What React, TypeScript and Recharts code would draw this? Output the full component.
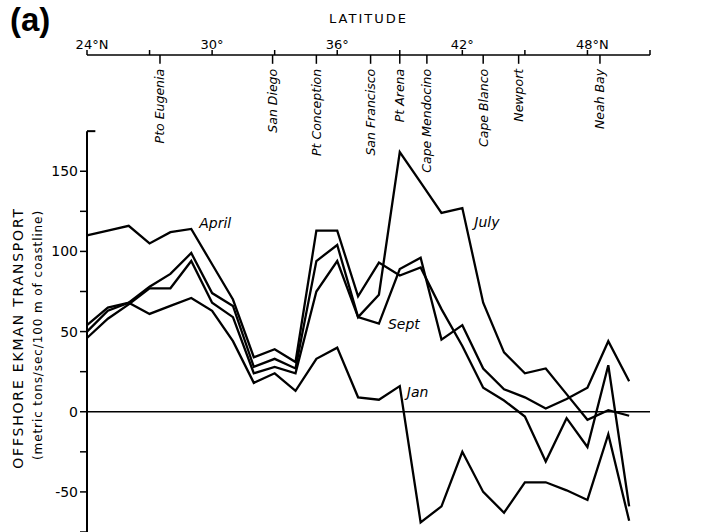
import React from "react";
import { LineChart, Line, XAxis, YAxis, ReferenceLine, LabelList } from "recharts";

// Offshore Ekman transport along the west coast, by latitude (one value per degree)
const latitudes = [24, 25, 26, 27, 28, 29, 30, 31, 32, 33, 34, 35, 36, 37, 38, 39, 40, 41, 42, 43, 44, 45, 46, 47, 48, 49, 50];
const april = [110, 113, 116, 105, 112, 114, 92, 70, 34, 39, 31, 113, 113, 72, 93, 85, 90, 64, 41, 15, 7, -3, -31, -4, -22, 29, -59];
const july = [50, 63, 68, 78, 86, 99, 74, 66, 28, 33, 27, 94, 104, 59, 73, 162, 143, 124, 127, 68, 37, 24, 27, 11, -5, 1, -2.5];
const sept = [46, 58, 67, 77, 77, 94, 68, 59, 24, 28, 24, 75, 94, 59, 55, 89, 96, 45, 54, 27, 14, 9, 2, 8, 15, 44, 19];
const jan = [54, 65, 68, 61, 66, 71, 63, 44, 18, 24, 13, 33, 40, 9, 7.5, 16, -69, -59, -25, -50, -63, -44, -44, -49, -55, -14, -68];

const latTicks = [24, 27, 30, 33, 36, 39, 42, 45, 48, 51];
const latTickLabels: Record<number, string> = { 24: "24°N", 30: "30°", 36: "36°", 42: "42°", 48: "48°N" };

const yTicks = [-75, -50, -25, 0, 25, 50, 75, 100, 125, 150];
const yTickLabels = [-50, 0, 50, 100, 150];

const places = ["Pto Eugenia", "San Diego", "Pt Conception", "San Francisco", "Pt Arena", "Cape Mendocino", "Cape Blanco", "Newport", "Neah Bay"];
const placeLats = [27.5, 32.9, 35.0, 37.6, 39.0, 40.3, 43.0, 44.7, 48.6];

const rows = latitudes.map((lat, i) => ({ lat, april: april[i], july: july[i], sept: sept[i], jan: jan[i] }));

const FONT = "'DejaVu Sans', sans-serif";
const Y_MIN = -75;
const Y_MAX = 222.5; // plot top sits on the latitude axis line
const AXIS_TOP = 175;

const LatTick = (props: any) => {
  const { x, y, payload } = props;
  const txt = latTickLabels[payload.value] || "";
  if (!txt) return null;
  const shift = txt.endsWith("N") ? 5 : 0;
  return (
    <text x={x + shift} y={y} textAnchor="middle" fontSize={13} fontFamily={FONT} fill="#000">
      {txt}
    </text>
  );
};

const YTitle = () => (
  <g fill="#000" fontFamily={FONT}>
    <text transform="translate(23,338) rotate(-90)" textAnchor="middle" fontSize={14} letterSpacing={1.8}>
      OFFSHORE EKMAN TRANSPORT
    </text>
    <text transform="translate(42,335) rotate(-90)" textAnchor="middle" fontSize={12} letterSpacing={0.9}>
      (metric tons/sec/100 m of coastline)
    </text>
  </g>
);

const placeLabel = (name: string) => (props: any) => {
  const vb = props.viewBox || {};
  const x = vb.x;
  const y = vb.y + vb.height + 5;
  return (
    <text
      transform={`translate(${x},${y}) rotate(-90)`}
      dy="0.35em"
      textAnchor="end"
      fontSize={12.5}
      fontStyle="italic"
      fontFamily={FONT}
      fill="#000"
    >
      {name}
    </text>
  );
};

const seriesLabel = (name: string, at: number, dx: number, dy: number) => (props: any) => {
  if (props.index !== at) return null;
  const x = props.x ?? props.viewBox?.x;
  const y = props.y ?? props.viewBox?.y;
  return (
    <text x={x + dx} y={y + dy} fontSize={14} fontStyle="italic" fontFamily={FONT} fill="#000">
      {name}
    </text>
  );
};

export default function App() {
  const lineProps = {
    type: "linear" as const,
    stroke: "#000",
    strokeWidth: 2.3,
    dot: false,
    activeDot: false,
    isAnimationActive: false,
  };
  return (
    <div style={{ position: "absolute", left: 0, top: 0, width: 705, height: 532, background: "#fff" }}>
      <svg width={60} height={45} style={{ position: "absolute", left: 0, top: 0 }}>
        <text x={10} y={31} fontSize={33} fontWeight="bold" fontFamily="'Liberation Sans', Arial, sans-serif" fill="#000">
          (a)
        </text>
      </svg>
      <LineChart width={705} height={532} data={rows} margin={{ top: 25, right: 55, left: 0, bottom: 0 }}>
        <XAxis
          dataKey="lat"
          type="number"
          orientation="top"
          domain={[24, 51]}
          ticks={latTicks}
          tick={<LatTick />}
          tickSize={5}
          tickMargin={1}
          height={30}
          axisLine={{ stroke: "#000", strokeWidth: 1.5 }}
          tickLine={{ stroke: "#000", strokeWidth: 1.5 }}
          label={{ value: "LATITUDE", position: "top", offset: 2, fontSize: 13, letterSpacing: 2, fill: "#000", fontFamily: FONT }}
        />
        <YAxis
          type="number"
          domain={[Y_MIN, Y_MAX]}
          ticks={yTicks}
          width={87}
          axisLine={false}
          tickSize={7}
          tickMargin={2}
          tickLine={{ stroke: "#000", strokeWidth: 1.5 }}
          tick={{ fill: "#000", fontSize: 14, fontFamily: FONT }}
          tickFormatter={(v: number) => (yTickLabels.includes(v) ? String(v) : "")}
          label={{ content: () => <YTitle /> }}
        />
        {/* left spine and its top stub */}
        <ReferenceLine segment={[{ x: 24, y: Y_MIN }, { x: 24, y: AXIS_TOP }]} stroke="#000" strokeWidth={2} ifOverflow="visible" />
        <ReferenceLine segment={[{ x: 24, y: AXIS_TOP }, { x: 24.4, y: AXIS_TOP }]} stroke="#000" strokeWidth={2} ifOverflow="visible" />
        <ReferenceLine y={0} stroke="#000" strokeWidth={1.5} />
        {places.map((p, i) => (
          <ReferenceLine
            key={p}
            segment={[{ x: placeLats[i], y: Y_MAX }, { x: placeLats[i], y: Y_MAX - 5.5 }]}
            stroke="#000"
            strokeWidth={1.5}
            ifOverflow="visible"
            label={placeLabel(p)}
          />
        ))}
        <Line {...lineProps} dataKey="april">
          <LabelList content={seriesLabel("April", 5, 8, -1)} />
        </Line>
        <Line {...lineProps} dataKey="july">
          <LabelList content={seriesLabel("July", 18, 12, 19)} />
        </Line>
        <Line {...lineProps} dataKey="sept">
          <LabelList content={seriesLabel("Sept", 14, 9, 5)} />
        </Line>
        <Line {...lineProps} dataKey="jan">
          <LabelList content={seriesLabel("Jan", 15, 7, 11)} />
        </Line>
      </LineChart>
    </div>
  );
}
